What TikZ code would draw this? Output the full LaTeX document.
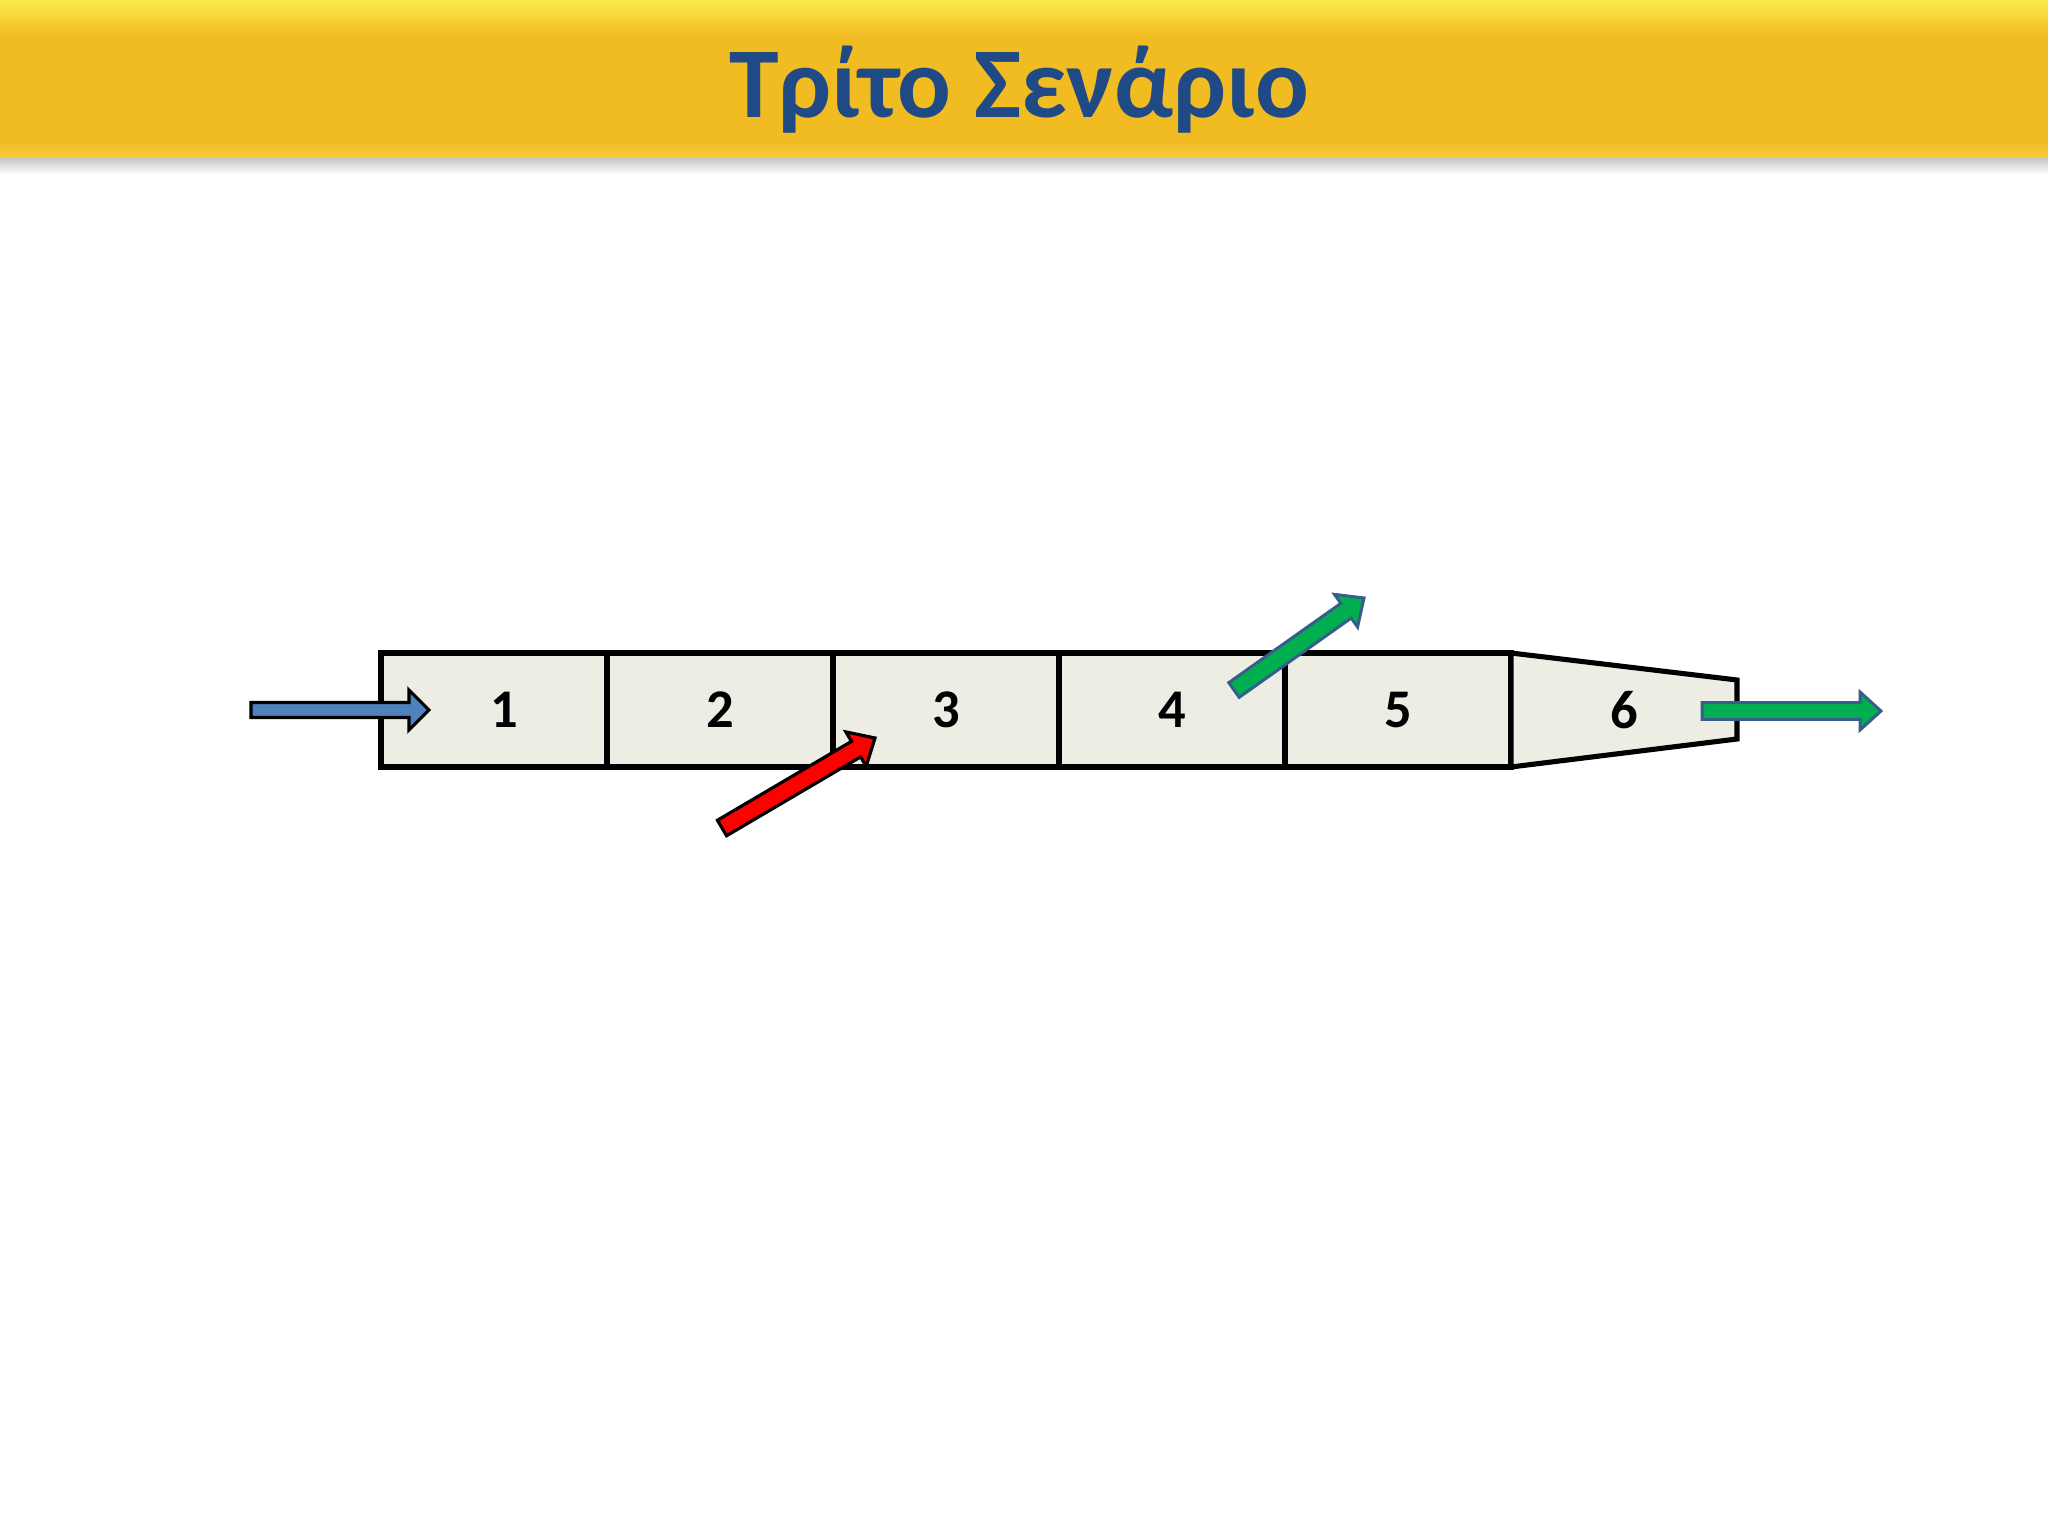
\documentclass[tikz,border=0pt]{standalone}
\usepackage{fontspec}
\setmainfont{Carlito}
\usepackage{tikz}
\usetikzlibrary{positioning, calc}
\definecolor{bannertop}{HTML}{FCEB4A}
\definecolor{bannerbody}{HTML}{F1BB22}
\definecolor{bannerlow}{HTML}{F6CE3A}
\definecolor{titleblue}{HTML}{1F4A85}
\definecolor{cellfill}{HTML}{EEEDE4}
\definecolor{feedblue}{HTML}{4F81BD}
\definecolor{outgreen}{HTML}{00B050}
\definecolor{outedge}{HTML}{385D8A}
\tikzset{node distance=0pt,
  cell/.style={draw, line width=1.45pt, fill=cellfill, rectangle, outer sep=0pt,
    minimum width=2.26cm, minimum height=1.14cm, font=\bfseries\fontsize{15.5}{18}\selectfont},
  title/.style={text=titleblue, font=\bfseries\fontsize{28.5}{34}\selectfont, anchor=base},
  feed/.style={draw=black, line width=0.9pt, fill=feedblue, line join=miter},
  inject/.style={draw=black, line width=0.9pt, fill=red, line join=miter},
  drain/.style={draw=outedge, line width=0.85pt, fill=outgreen, line join=miter}}
% block arrow: style, tail, tip, half shaft, half head, head length
\newcommand{\blockarrow}[6]{%
  \coordinate (neck) at ($(#3)!#6!(#2)$);
  \draw[#1] ($(#2)!#4!90:(#3)$) -- ($(neck)!#4!-90:(#2)$) -- ($(neck)!#5!-90:(#2)$)
    -- (#3) -- ($(neck)!#5!90:(#2)$) -- ($(neck)!#4!90:(#2)$) -- ($(#2)!#4!-90:(#3)$) -- cycle;}

\begin{document}
\begin{tikzpicture}
  \useasboundingbox (0,0) rectangle (20.48,-15.36);
  \fill[white] (0,0) rectangle (20.48,-15.36);

  % banner
  \shade[top color=black!22, bottom color=white] (0,-1.58) rectangle (20.48,-1.74);
  \fill[bannerbody] (0,0) rectangle (20.48,-1.58);
  \shade[top color=bannertop, bottom color=bannerbody] (0,0) rectangle (20.48,-0.36);
  \shade[top color=bannerbody, bottom color=bannerlow] (0,-1.40) rectangle (20.48,-1.58);
  \node[title] (title) at (10.19,-1.18) {Τρίτο Σενάριο};

  % reactor cells
  \node[cell] (cell1) at (4.94,-7.10) {\hspace{0.2cm}1};
  \node[cell, right=of cell1] (cell2) {2};
  \node[cell, right=of cell2] (cell3) {3};
  \node[cell, right=of cell3] (cell4) {4};
  \node[cell, right=of cell4] (cell5) {5};
  \node[font=\bfseries\fontsize{15.5}{18}\selectfont, minimum width=2.26cm, minimum height=1.14cm,
    outer sep=0pt, right=of cell5] (cell6) {\phantom{6}};
  \draw[line width=1.45pt, fill=cellfill, line join=miter]
    (cell6.north west) -- ($(cell6.north east)+(0,-0.27)$) -- ($(cell6.south east)+(0,0.28)$)
    -- (cell6.south west) -- cycle;
  \node[font=\bfseries\fontsize{15.5}{18}\selectfont] at (cell6) {6};

  % streams
  \coordinate (feedin) at (2.51,-7.10);
  \coordinate (feedtip) at (4.29,-7.10);
  \coordinate (sidein) at (7.22,-8.28);
  \coordinate (sidetip) at (8.75,-7.38);
  \coordinate (drawoff) at (12.34,-6.90);
  \coordinate (drawtip) at (13.64,-5.98);
  \coordinate (exitin) at (17.02,-7.11);
  \coordinate (exittip) at (18.81,-7.11);

  \blockarrow{feed}{feedin}{feedtip}{0.075cm}{0.20cm}{0.20cm}
  \blockarrow{inject}{sidein}{sidetip}{0.09cm}{0.20cm}{0.22cm}
  \blockarrow{drain}{drawoff}{drawtip}{0.09cm}{0.20cm}{0.22cm}
  \blockarrow{drain}{exitin}{exittip}{0.085cm}{0.19cm}{0.21cm}
\end{tikzpicture}
\end{document}
